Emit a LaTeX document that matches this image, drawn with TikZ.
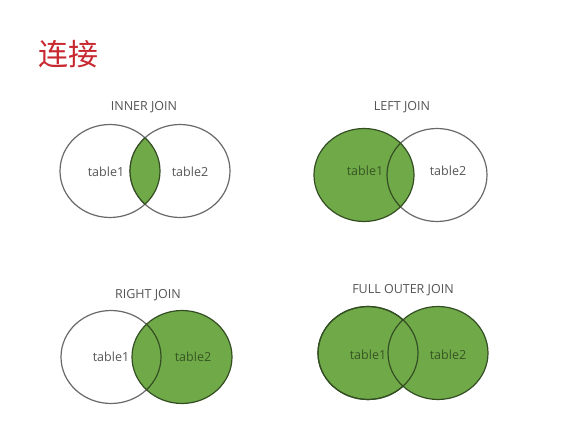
\documentclass[tikz,border=0pt]{standalone}
\usepackage{fontspec}
\setmainfont{Open Sans}
\newfontfamily\cjk{Noto Sans CJK SC}
\usetikzlibrary{shapes.geometric}
\definecolor{jgreen}{RGB}{112,170,72}
\definecolor{jdark}{RGB}{52,78,36}
\definecolor{jgray}{RGB}{105,105,105}
\definecolor{jtext}{RGB}{85,85,85}
\definecolor{jgtext}{RGB}{55,85,35}
\definecolor{jred}{RGB}{200,40,48}
\begin{document}
\begin{tikzpicture}[x=1pt,y=-1pt,
  setw/.style={ellipse,minimum width=100pt,minimum height=93pt,inner sep=0pt,line width=1.2pt,draw=jgray,fill=white},
  setg/.style={ellipse,minimum width=100pt,minimum height=93pt,inner sep=0pt,line width=1.2pt,draw=jdark,fill=jgreen},
  lbl/.style={font=\fontsize{12.5}{14}\selectfont,text=jtext,inner sep=0pt},
  lblg/.style={font=\fontsize{12.5}{14}\selectfont,text=jgtext,inner sep=0pt},
  ttl/.style={font=\fontsize{12.5}{14}\selectfont,text=jtext,inner sep=0pt}]
\useasboundingbox (0,0) rectangle (582,446);
\fill[white] (0,0) rectangle (582,446);
\node[font=\cjk\fontsize{30}{32}\selectfont,text=jred,inner sep=0pt] (title) at (68,54) {连接};

% INNER JOIN
\node[ttl] (t1) at (144,107) {INNER JOIN};
\node[setw] (a1) at (110,171) {};
\node[setw] (b1) at (180,171) {};
\begin{scope}
  \clip (110,171) ellipse [x radius=50, y radius=46.5];
  \fill[jgreen] (180,171) ellipse [x radius=50, y radius=46.5];
  \draw[jdark,line width=1.2pt] (180,171) ellipse [x radius=50, y radius=46.5];
\end{scope}
\begin{scope}
  \clip (180,171) ellipse [x radius=50, y radius=46.5];
  \draw[jdark,line width=1.2pt] (110,171) ellipse [x radius=50, y radius=46.5];
\end{scope}
\node[lbl] (la1) at (106,172) {table1};
\node[lbl] (lb1) at (190,172) {table2};

% LEFT JOIN
\node[ttl] (t2) at (402,107) {LEFT JOIN};
\node[setw] (b2) at (437,175) {};
\node[setg] (a2) at (364,175) {};
\begin{scope}
  \clip (364,175) ellipse [x radius=50, y radius=46.5];
  \draw[jdark,line width=1.2pt] (437,175) ellipse [x radius=50, y radius=46.5];
\end{scope}
\node[lblg] (la2) at (365,171) {table1};
\node[lbl] (lb2) at (448,171) {table2};

% RIGHT JOIN
\node[ttl] (t3) at (148,295) {RIGHT JOIN};
\node[setw] (a3) at (111,357) {};
\node[setg] (b3) at (182,357) {};
\begin{scope}
  \clip (182,357) ellipse [x radius=50, y radius=46.5];
  \draw[jdark,line width=1.2pt] (111,357) ellipse [x radius=50, y radius=46.5];
\end{scope}
\node[lbl] (la3) at (111,357) {table1};
\node[lblg] (lb3) at (193,357) {table2};

% FULL OUTER JOIN
\node[ttl] (t4) at (403,290) {FULL OUTER JOIN};
\node[setg] (a4) at (368,353) {};
\node[setg] (b4) at (438,353) {};
\draw[jdark,line width=1.2pt] (368,353) ellipse [x radius=50, y radius=46.5];
\node[lblg] (la4) at (368,355) {table1};
\node[lblg] (lb4) at (448,355) {table2};
\end{tikzpicture}
\end{document}
